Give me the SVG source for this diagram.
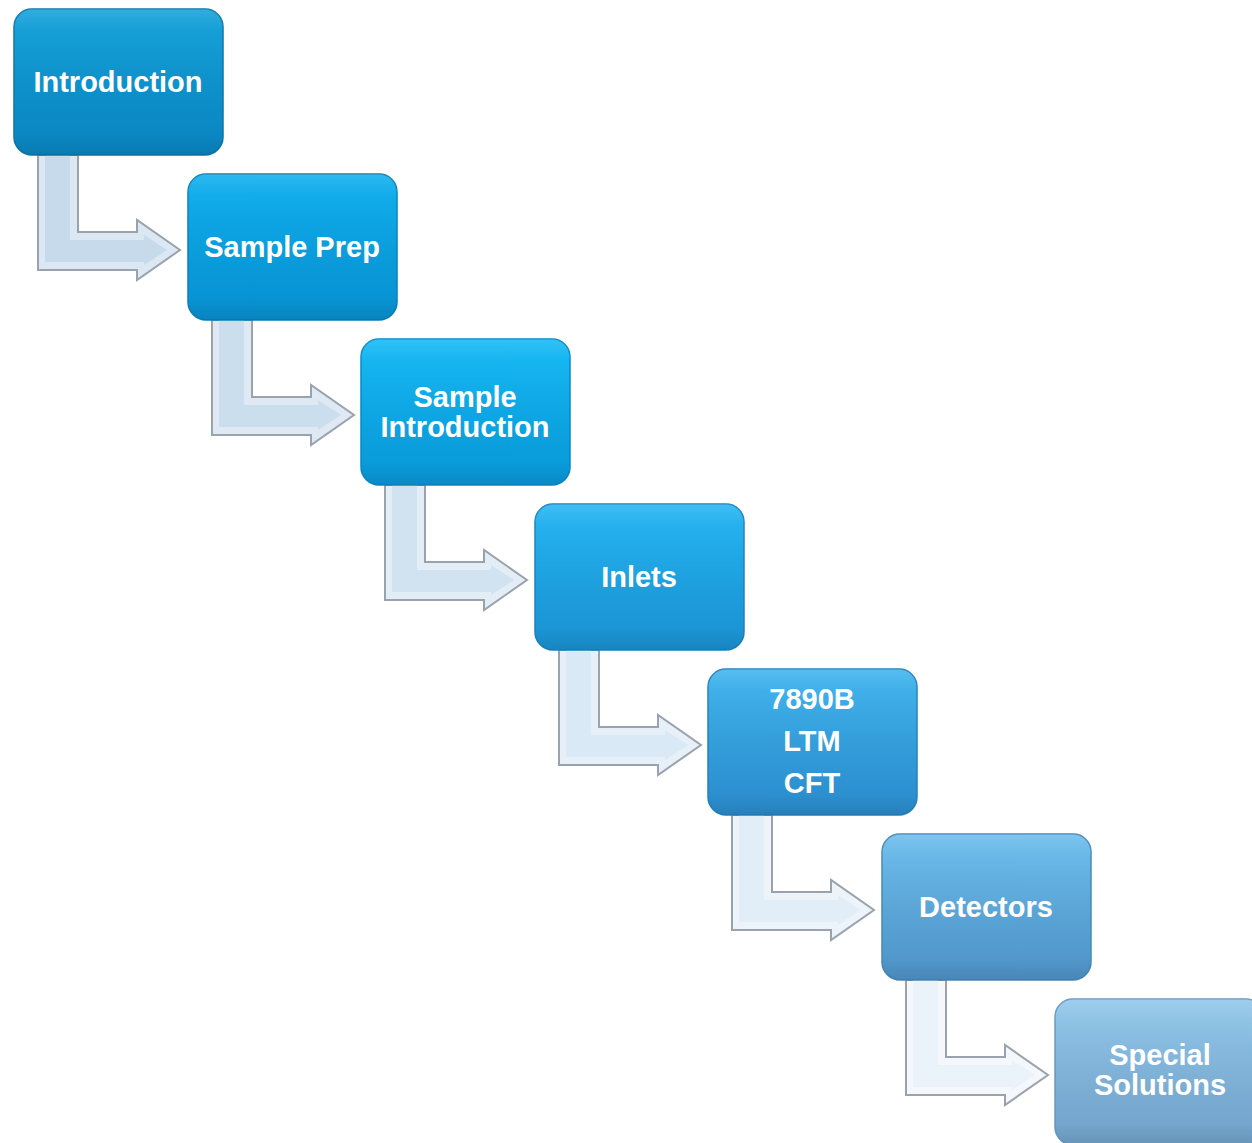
<svg xmlns="http://www.w3.org/2000/svg" width="1252" height="1143" viewBox="0 0 1252 1143">
<defs>
<style>
.box{stroke-width:1.5}
.lbl{font-family:"Liberation Sans",Arial,sans-serif;font-weight:bold;font-size:29px;fill:#ffffff;text-anchor:middle}
.aout{stroke:#9aa3ad;stroke-width:2;stroke-linejoin:miter}
.ain{stroke:none}
</style>
<linearGradient id="g1" x1="0" y1="0" x2="0" y2="1"><stop offset="0" stop-color="#0fa0d9"/><stop offset="1" stop-color="#0a84c0"/></linearGradient>
<linearGradient id="g2" x1="0" y1="0" x2="0" y2="1"><stop offset="0" stop-color="#0aaeee"/><stop offset="1" stop-color="#088fcf"/></linearGradient>
<linearGradient id="g3" x1="0" y1="0" x2="0" y2="1"><stop offset="0" stop-color="#0fb8f5"/><stop offset="1" stop-color="#0996d6"/></linearGradient>
<linearGradient id="g4" x1="0" y1="0" x2="0" y2="1"><stop offset="0" stop-color="#20b4f3"/><stop offset="1" stop-color="#1a90d0"/></linearGradient>
<linearGradient id="g5" x1="0" y1="0" x2="0" y2="1"><stop offset="0" stop-color="#3cb3ee"/><stop offset="1" stop-color="#2a8acb"/></linearGradient>
<linearGradient id="g6" x1="0" y1="0" x2="0" y2="1"><stop offset="0" stop-color="#68bcec"/><stop offset="1" stop-color="#4e92c6"/></linearGradient>
<linearGradient id="g7" x1="0" y1="0" x2="0" y2="1"><stop offset="0" stop-color="#90c6ea"/><stop offset="1" stop-color="#70a0c8"/></linearGradient>
<linearGradient id="gloss" x1="0" y1="0" x2="0" y2="1"><stop offset="0" stop-color="#ffffff" stop-opacity="0.14"/><stop offset="0.15" stop-color="#ffffff" stop-opacity="0.03"/><stop offset="0.85" stop-color="#000000" stop-opacity="0"/><stop offset="1" stop-color="#000000" stop-opacity="0.08"/></linearGradient>
<path id="aO" d="M24,146 H64 V223 H123 V211 L166,241 L123,271 V261 H24 Z"/>
<path id="aI" d="M31,146 H56 V231 H130 V226 L153,241 L130,256 V253 H31 Z"/>
</defs>
<rect width="1252" height="1143" fill="#ffffff"/>
<g id="connectors">
<g transform="translate(14,9)"><use href="#aO" class="aout" fill="#dbe8f3"/><use href="#aI" class="ain" fill="#c6daec"/></g>
<g transform="translate(188,174)"><use href="#aO" class="aout" fill="#dee9f4"/><use href="#aI" class="ain" fill="#cadeee"/></g>
<g transform="translate(361,339)"><use href="#aO" class="aout" fill="#e2edf6"/><use href="#aI" class="ain" fill="#d1e3f1"/></g>
<g transform="translate(535,504)"><use href="#aO" class="aout" fill="#e7f0f8"/><use href="#aI" class="ain" fill="#d9e9f5"/></g>
<g transform="translate(708,669)"><use href="#aO" class="aout" fill="#ecf4fa"/><use href="#aI" class="ain" fill="#e1eef8"/></g>
<g transform="translate(882,834)"><use href="#aO" class="aout" fill="#f4f8fc"/><use href="#aI" class="ain" fill="#eaf3fa"/></g>
</g>
<g id="introduction">
<rect class="box" x="14" y="9" width="209" height="146" rx="18" fill="url(#g1)" stroke="#0a76ae"/>
<rect x="14" y="9" width="209" height="146" rx="18" fill="url(#gloss)"/>
<text class="lbl" x="118" y="92">Introduction</text>
</g>
<g id="sample-prep">
<rect class="box" x="188" y="174" width="209" height="146" rx="18" fill="url(#g2)" stroke="#0a80ba"/>
<rect x="188" y="174" width="209" height="146" rx="18" fill="url(#gloss)"/>
<text class="lbl" x="292" y="257">Sample Prep</text>
</g>
<g id="sample-introduction">
<rect class="box" x="361" y="339" width="209" height="146" rx="18" fill="url(#g3)" stroke="#0a88c4"/>
<rect x="361" y="339" width="209" height="146" rx="18" fill="url(#gloss)"/>
<text class="lbl" x="465" y="407">Sample</text>
<text class="lbl" x="465" y="437">Introduction</text>
</g>
<g id="inlets">
<rect class="box" x="535" y="504" width="209" height="146" rx="18" fill="url(#g4)" stroke="#1884c0"/>
<rect x="535" y="504" width="209" height="146" rx="18" fill="url(#gloss)"/>
<text class="lbl" x="639" y="587">Inlets</text>
</g>
<g id="7890b">
<rect class="box" x="708" y="669" width="209" height="146" rx="18" fill="url(#g5)" stroke="#2680bc"/>
<rect x="708" y="669" width="209" height="146" rx="18" fill="url(#gloss)"/>
<text class="lbl" x="812" y="709">7890B</text>
<text class="lbl" x="812" y="751">LTM</text>
<text class="lbl" x="812" y="793">CFT</text>
</g>
<g id="detectors">
<rect class="box" x="882" y="834" width="209" height="146" rx="18" fill="url(#g6)" stroke="#4888b8"/>
<rect x="882" y="834" width="209" height="146" rx="18" fill="url(#gloss)"/>
<text class="lbl" x="986" y="917">Detectors</text>
</g>
<g id="special-solutions">
<rect class="box" x="1055" y="999" width="209" height="146" rx="18" fill="url(#g7)" stroke="#6898be"/>
<rect x="1055" y="999" width="209" height="146" rx="18" fill="url(#gloss)"/>
<text class="lbl" x="1160" y="1065">Special</text>
<text class="lbl" x="1160" y="1095">Solutions</text>
</g>
</svg>
